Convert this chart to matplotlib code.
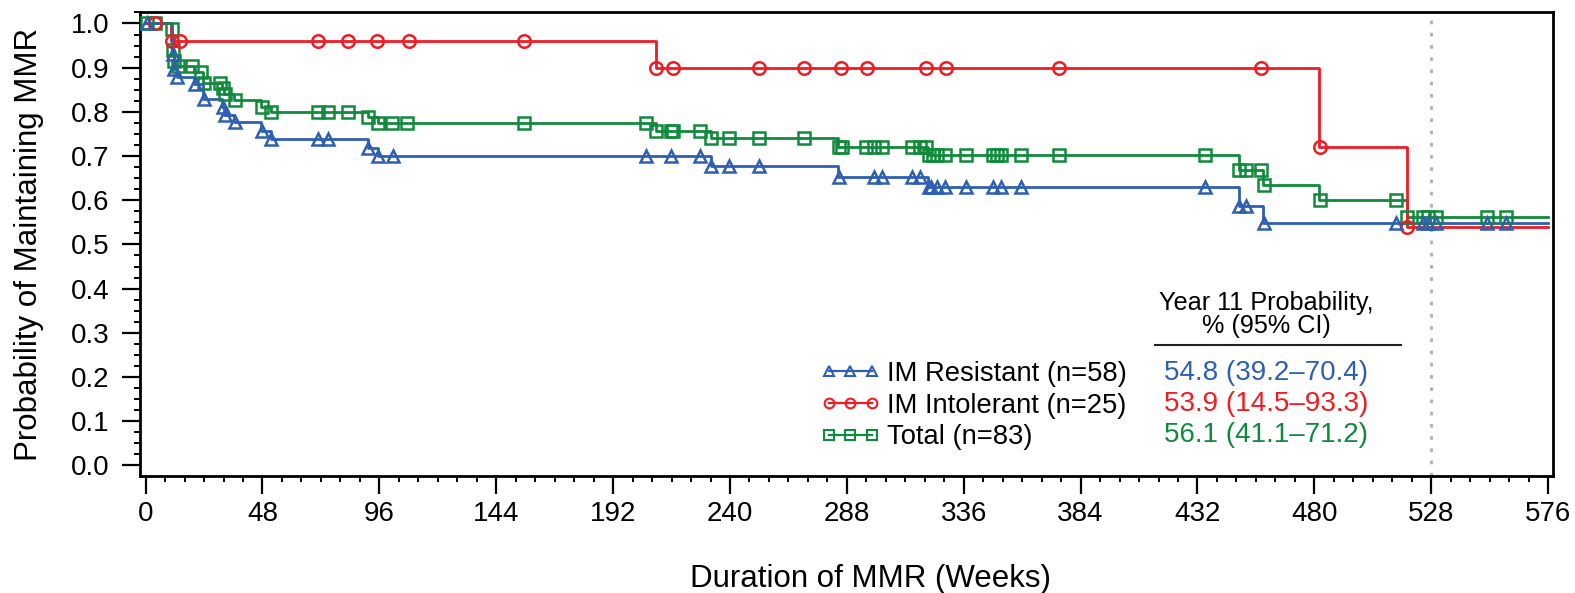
import numpy as np
import matplotlib
matplotlib.use("Agg")
import matplotlib.pyplot as plt
from matplotlib.lines import Line2D
from matplotlib.ticker import MultipleLocator, FormatStrFormatter

plt.rcParams['font.family'] = ['Liberation Sans', 'DejaVu Sans']

# Kaplan-Meier curves: event weeks and survival after each event
blue_event_t = [11.0, 11.6, 12.8, 20.0, 23.5, 31.3, 32.3, 36.5, 47.5, 51.3,
                91.3, 95.3, 232.0, 284.5, 321.5, 449.0, 459.0]
blue_event_s = [0.931, 0.897, 0.879, 0.862, 0.828, 0.810, 0.793, 0.776, 0.757, 0.738,
                0.719, 0.700, 0.677, 0.653, 0.629, 0.587, 0.548]
blue_censor = [0.5, 11.2, 11.8, 13.0, 20.3, 23.8, 31.6, 32.6, 36.8, 47.7, 51.5, 70.6,
               75.1, 91.5, 95.6, 101.5, 205.5, 215.8, 227.7, 232.3, 239.6, 252.0, 284.8,
               299.3, 302.3, 314.6, 318.0, 321.7, 322.5, 325.0, 328.3, 337.0, 348.0,
               351.5, 359.5, 435.0, 449.2, 451.8, 459.2, 513.6, 524.5, 526.8, 530.0,
               551.0, 558.7]

red_event_t = [10.5, 209.5, 482.0, 518.0]
red_event_s = [0.960, 0.900, 0.720, 0.539]
red_censor = [4.0, 11.0, 14.0, 71.0, 83.3, 95.2, 108.0, 155.6, 209.7, 216.5, 252.0,
              270.4, 285.6, 296.2, 320.5, 328.7, 375.0, 458.0, 482.3, 518.2]

green_event_t = [10.5, 11.0, 11.6, 12.8, 20.0, 23.5, 31.3, 32.3, 36.5, 47.5, 51.3,
                 91.3, 95.3, 209.5, 232.0, 284.5, 321.5, 449.0, 459.0, 482.0, 518.0]
green_event_s = [0.988, 0.940, 0.916, 0.904, 0.890, 0.866, 0.853, 0.840, 0.826, 0.812,
                 0.800, 0.788, 0.775, 0.757, 0.740, 0.721, 0.702, 0.668, 0.634, 0.600,
                 0.561]
green_censor = [0.5, 4.0, 10.8, 11.2, 11.8, 13.5, 19.0, 22.7, 23.8, 30.6, 31.6, 32.6,
                36.8, 47.7, 51.5, 70.6, 74.8, 83.3, 91.5, 95.6, 101.3, 107.5, 155.6,
                205.5, 209.7, 215.6, 216.5, 227.7, 232.1, 239.6, 252.1, 270.5, 284.8,
                285.9, 295.8, 299.3, 302.3, 314.6, 318.0, 320.7, 321.9, 323.5, 325.0,
                328.3, 337.0, 348.0, 349.8, 351.5, 359.5, 375.0, 435.1, 449.2, 452.0,
                458.0, 459.2, 482.3, 513.6, 518.2, 524.5, 526.8, 530.0, 551.0, 558.7]

labels = ['IM Resistant (n=58)', 'IM Intolerant (n=25)', 'Total (n=83)']
year11 = ['54.8 (39.2\u201370.4)', '53.9 (14.5\u201393.3)', '56.1 (41.1\u201371.2)']
colors = ['#2f5fb3', '#f01c24', '#108a3c']
markers = ['^', 'o', 's']
end_week = 576
landmark_week = 528

W, H = 1575, 593
fig = plt.figure(figsize=(W / 100, H / 100), dpi=100)
ax = fig.add_axes([140 / W, 1 - 476 / H, (1553 - 140) / W, (476 - 12) / H])


def surv_at(t, et, es):
    idx = np.searchsorted(et, t, side='right')
    return np.r_[1.0, es][idx]


series = [
    (blue_event_t, blue_event_s, blue_censor),
    (red_event_t, red_event_s, red_censor),
    (green_event_t, green_event_s, green_censor),
]

# draw total first so the subgroups sit on top
for i in [2, 1, 0]:
    et, es, ct = series[i]
    tx = np.r_[0.0, et, end_week]
    ty = np.r_[1.0, es, es[-1]]
    ax.step(tx, ty, where='post', color=colors[i], lw=2.0, zorder=3)
    ct = np.array(ct)
    ax.plot(ct, surv_at(ct, et, es), ls='none', marker=markers[i], ms=9,
            mfc='none', mec=colors[i], mew=1.8, zorder=4)

ax.axvline(landmark_week, color='#b4b4b4', ls=(0, (1.2, 2.8)), lw=2.2, zorder=1)

ax.set_xlim(-2.3, 578)
ax.set_ylim(-0.024, 1.026)
ax.xaxis.set_major_locator(MultipleLocator(48))
ax.xaxis.set_minor_locator(MultipleLocator(8))
ax.yaxis.set_major_locator(MultipleLocator(0.1))
ax.yaxis.set_minor_locator(MultipleLocator(0.025))
ax.yaxis.set_major_formatter(FormatStrFormatter('%.1f'))
ax.tick_params(which='major', length=13, width=1.6, labelsize=20, pad=5)
ax.tick_params(which='minor', length=4, width=1.4)
ax.tick_params(axis='y', which='major', pad=9)
for s in ax.spines.values():
    s.set_linewidth(2)

ax.set_xlabel('Duration of MMR (Weeks)', fontsize=22.5, labelpad=27)
ax.xaxis.label.set_x(0.517)
ax.set_ylabel('Probability of Maintaining MMR', fontsize=22.5, labelpad=19)

handles = [Line2D([], [], color=colors[i], lw=1.6, marker=markers[i], ms=7,
                  mfc='none', mec=colors[i], mew=1.5) for i in range(3)]
leg = ax.legend(handles, labels, loc='upper left', frameon=False, numpoints=3,
                fontsize=19.7, handlelength=2.15, handletextpad=0.25, labelspacing=0.21,
                borderpad=0, borderaxespad=0,
                bbox_to_anchor=(821 / W, 1 - 361 / H), bbox_transform=fig.transFigure)

# Year 11 probability table
cx = 1266 / W
fig.text(cx, 1 - 303 / H, 'Year 11 Probability,', ha='center', va='center', fontsize=18.2)
fig.text(cx, 1 - 326 / H, '% (95% CI)', ha='center', va='center', fontsize=18.2)
fig.add_artist(Line2D([1155 / W, 1401 / W], [1 - 344.5 / H, 1 - 344.5 / H],
                      color='#222222', lw=1.5, transform=fig.transFigure))
for i, (txt, yy) in enumerate(zip(year11, [372.5, 403.8, 435.0])):
    fig.text(cx, 1 - yy / H, txt, ha='center', va='center', fontsize=20, color=colors[i])

fig.savefig('out.png', dpi=100)
